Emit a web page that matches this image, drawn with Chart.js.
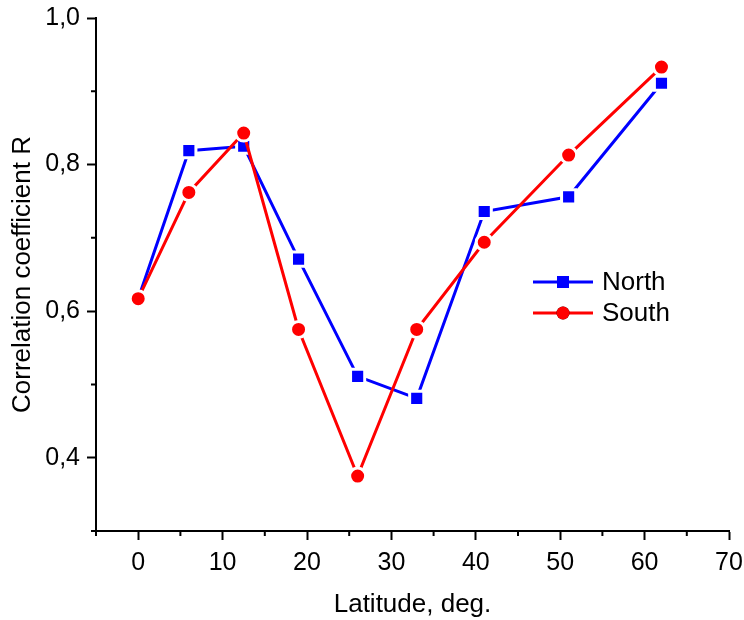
<!DOCTYPE html>
<html>
<head>
<meta charset="utf-8">
<script src="https://cdn.jsdelivr.net/npm/chart.js@4"></script>
<style>
  html, body { margin: 0; padding: 0; background: #fff; }
  #wrap { width: 744px; height: 620px; }
</style>
</head>
<body>
<div id="wrap"><canvas id="chart"></canvas></div>
<script>
// latitude of each station band, deg.
const latitude = [0, 6, 12.5, 19, 26, 33, 41, 51, 62];
const northR = [0.617, 0.819, 0.825, 0.671, 0.511, 0.481, 0.736, 0.756, 0.911];
const southR = [0.617, 0.762, 0.843, 0.575, 0.375, 0.575, 0.694, 0.813, 0.933];

const xMinorTicks = [-5, 5, 15, 25, 35, 45, 55, 65];
const yMinorTicks = [0.3, 0.5, 0.7, 0.9];

const FONT = 'Liberation Sans, Arial, Helvetica, sans-serif';

const toPoints = (xs, ys) => xs.map((x, i) => ({ x: x, y: ys[i] }));

// short outward minor ticks between the labelled ones
const minorTicks = {
  id: 'minorTicks',
  afterDraw(chart) {
    const ctx = chart.ctx;
    const xs = chart.scales.x;
    const ys = chart.scales.y;
    const area = chart.chartArea;
    ctx.save();
    ctx.strokeStyle = '#000';
    ctx.lineWidth = 2;
    ctx.beginPath();
    xMinorTicks.forEach(v => {
      const px = xs.getPixelForValue(v);
      ctx.moveTo(px, area.bottom);
      ctx.lineTo(px, area.bottom + 5);
    });
    yMinorTicks.forEach(v => {
      const py = ys.getPixelForValue(v);
      ctx.moveTo(area.left - 5, py);
      ctx.lineTo(area.left, py);
    });
    ctx.stroke();
    ctx.restore();
  }
};

// legend inside the plot, line + marker + name
const insideLegend = {
  id: 'insideLegend',
  afterDraw(chart) {
    const ctx = chart.ctx;
    const area = chart.chartArea;
    const x0 = area.left + 437;
    const y0 = area.top + 264;
    const rowGap = 31;
    const entries = [chart.data.datasets[1], chart.data.datasets[0]];
    ctx.save();
    entries.forEach((ds, i) => {
      const y = y0 + i * rowGap;
      ctx.strokeStyle = ds.borderColor;
      ctx.lineWidth = ds.borderWidth;
      ctx.beginPath();
      ctx.moveTo(x0, y);
      ctx.lineTo(x0 + 60, y);
      ctx.stroke();
      Chart.helpers.drawPoint(ctx, {
        pointStyle: ds.pointStyle,
        radius: ds.pointRadius - 1.5,
        borderWidth: 0
      }, x0 + 30, y);
      ctx.fillStyle = ds.pointBackgroundColor;
      ctx.fill();
      ctx.fillStyle = '#000';
      ctx.font = '26px ' + FONT;
      ctx.textBaseline = 'middle';
      ctx.textAlign = 'left';
      ctx.fillText(ds.label, x0 + 69, y + 1);
    });
    ctx.restore();
  }
};

new Chart(document.getElementById('chart'), {
  type: 'scatter',
  data: {
    datasets: [
      {
        label: 'South',
        data: toPoints(latitude, southR),
        showLine: true,
        borderColor: '#ff0000',
        borderWidth: 3,
        pointStyle: 'circle',
        pointRadius: 8,
        pointBackgroundColor: '#ff0000',
        pointBorderColor: '#ffffff',
        pointBorderWidth: 3,
        clip: false,
        order: 0
      },
      {
        label: 'North',
        data: toPoints(latitude, northR),
        showLine: true,
        borderColor: '#0000ff',
        borderWidth: 3,
        pointStyle: 'rect',
        pointRadius: 10,
        pointBackgroundColor: '#0000ff',
        pointBorderColor: '#ffffff',
        pointBorderWidth: 3,
        clip: false,
        order: 1
      }
    ]
  },
  options: {
    responsive: true,
    maintainAspectRatio: false,
    animation: false,
    layout: { padding: { top: 18, right: 15, left: 0, bottom: 0 } },
    plugins: {
      legend: { display: false },
      tooltip: { enabled: false }
    },
    scales: {
      x: {
        type: 'linear',
        min: -5,
        max: 70,
        // fixed axis height, no extra room reserved for end labels
        afterFit: s => { s.height = 89; s.paddingLeft = 0; s.paddingRight = 0; },
        ticks: {
          stepSize: 10,
          includeBounds: false,
          color: '#000',
          padding: 8,
          font: { family: FONT, size: 25 },
          maxRotation: 0
        },
        grid: {
          drawOnChartArea: false,
          drawTicks: true,
          tickLength: 9,
          tickWidth: 2,
          tickColor: '#000',
          color: '#000'
        },
        border: { display: true, color: '#000', width: 2 },
        title: {
          display: true,
          text: 'Latitude, deg.',
          color: '#000',
          font: { family: FONT, size: 26 },
          padding: { top: 0, bottom: 0 }
        }
      },
      y: {
        type: 'linear',
        min: 0.3,
        max: 1.0,
        afterFit: s => { s.width = 96; s.paddingTop = 0; s.paddingBottom = 0; },
        ticks: {
          stepSize: 0.2,
          includeBounds: false,
          color: '#000',
          padding: 7,
          font: { family: FONT, size: 25 },
          callback: v => v.toFixed(1).replace('.', ',')
        },
        grid: {
          drawOnChartArea: false,
          drawTicks: true,
          tickLength: 9,
          tickWidth: 2,
          tickColor: '#000',
          color: '#000'
        },
        border: { display: true, color: '#000', width: 2 },
        title: {
          display: true,
          text: 'Correlation coefficient R',
          color: '#000',
          font: { family: FONT, size: 26 },
          padding: { top: 7, bottom: 0 }
        }
      }
    }
  },
  plugins: [minorTicks, insideLegend]
});
</script>
</body>
</html>
